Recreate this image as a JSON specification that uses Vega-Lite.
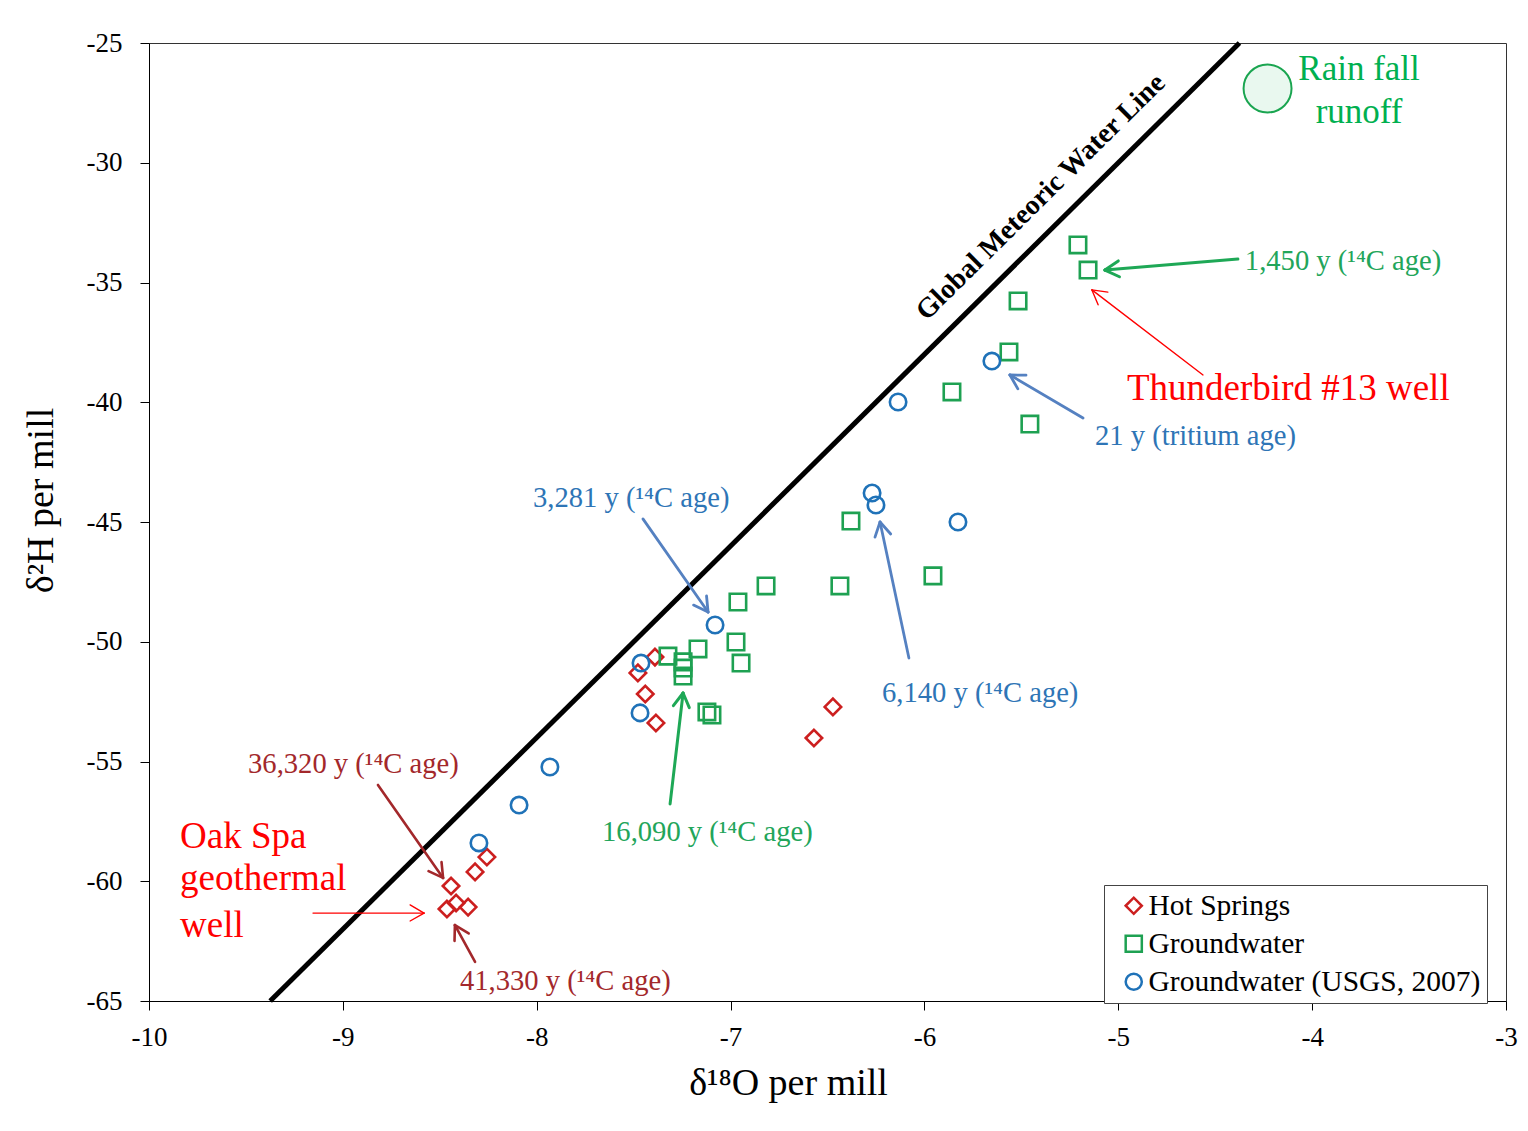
{
  "$schema": "https://vega.github.io/schema/vega-lite/v6.json",
  "width": 1357,
  "height": 958,
  "autosize": "none",
  "padding": {"left": 149, "top": 43, "right": 22, "bottom": 130},
  "background": "white",
  "config": {
    "view": {"stroke": "#333", "strokeWidth": 1},
    "axis": {
      "grid": false,
      "labelFont": "Liberation Serif",
      "labelFontSize": 27,
      "labelColor": "#000",
      "titleFont": "Liberation Serif",
      "titleFontSize": 38,
      "titleFontWeight": "normal",
      "titleColor": "#000",
      "domainColor": "#000",
      "tickColor": "#000",
      "tickSize": 9
    },
    "legend": {
      "labelFont": "Liberation Serif",
      "labelFontSize": 29.5,
      "labelColor": "#000",
      "labelLimit": 0,
      "symbolStrokeWidth": 2.5,
      "symbolSize": 260,
      "strokeColor": "#444",
      "fillColor": "#fff",
      "padding": 6,
      "rowPadding": 7,
      "labelOffset": 0,
      "symbolOffset": 9
    }
  },
  "datasets": {
    "gmwl": [{"x": -9.375, "y": -65, "x2": -4.375, "y2": -25}],
    "rain": [{"x": -4.23, "y": -26.9}],
    "points": [
      {"type": "Hot Springs", "x": -7.478, "y": -51.30},
      {"type": "Hot Springs", "x": -7.39, "y": -50.64},
      {"type": "Hot Springs", "x": -7.44, "y": -52.18},
      {"type": "Hot Springs", "x": -7.385, "y": -53.39},
      {"type": "Hot Springs", "x": -6.472, "y": -52.72},
      {"type": "Hot Springs", "x": -6.570, "y": -54.02},
      {"type": "Hot Springs", "x": -8.257, "y": -58.99},
      {"type": "Hot Springs", "x": -8.318, "y": -59.61},
      {"type": "Hot Springs", "x": -8.442, "y": -60.20},
      {"type": "Hot Springs", "x": -8.463, "y": -61.16},
      {"type": "Hot Springs", "x": -8.416, "y": -60.91},
      {"type": "Hot Springs", "x": -8.354, "y": -61.08},
      {"type": "Groundwater", "x": -5.208, "y": -33.43},
      {"type": "Groundwater", "x": -5.156, "y": -34.48},
      {"type": "Groundwater", "x": -5.517, "y": -35.77},
      {"type": "Groundwater", "x": -5.564, "y": -37.90},
      {"type": "Groundwater", "x": -5.858, "y": -39.57},
      {"type": "Groundwater", "x": -5.456, "y": -40.91},
      {"type": "Groundwater", "x": -6.379, "y": -44.96},
      {"type": "Groundwater", "x": -6.436, "y": -47.67},
      {"type": "Groundwater", "x": -5.956, "y": -47.25},
      {"type": "Groundwater", "x": -6.817, "y": -47.67},
      {"type": "Groundwater", "x": -6.962, "y": -48.34},
      {"type": "Groundwater", "x": -6.972, "y": -50.01},
      {"type": "Groundwater", "x": -6.946, "y": -50.89},
      {"type": "Groundwater", "x": -7.168, "y": -50.30},
      {"type": "Groundwater", "x": -7.323, "y": -50.60},
      {"type": "Groundwater", "x": -7.245, "y": -50.84},
      {"type": "Groundwater", "x": -7.245, "y": -51.10},
      {"type": "Groundwater", "x": -7.245, "y": -51.43},
      {"type": "Groundwater", "x": -7.122, "y": -52.93},
      {"type": "Groundwater", "x": -7.096, "y": -53.06},
      {"type": "Groundwater (USGS, 2007)", "x": -5.652, "y": -38.28},
      {"type": "Groundwater (USGS, 2007)", "x": -6.136, "y": -39.99},
      {"type": "Groundwater (USGS, 2007)", "x": -6.270, "y": -43.79},
      {"type": "Groundwater (USGS, 2007)", "x": -6.250, "y": -44.29},
      {"type": "Groundwater (USGS, 2007)", "x": -5.827, "y": -45.00},
      {"type": "Groundwater (USGS, 2007)", "x": -7.080, "y": -49.30},
      {"type": "Groundwater (USGS, 2007)", "x": -7.462, "y": -50.89},
      {"type": "Groundwater (USGS, 2007)", "x": -7.467, "y": -52.97},
      {"type": "Groundwater (USGS, 2007)", "x": -7.932, "y": -55.23},
      {"type": "Groundwater (USGS, 2007)", "x": -8.091, "y": -56.82},
      {"type": "Groundwater (USGS, 2007)", "x": -8.298, "y": -58.40}
    ],
    "arrows": [
      {"kind": "gw", "x": -4.383, "y": -34.02, "x2": -5.069, "y2": -34.48},
      {"kind": "gw", "x": -5.069, "y": -34.48, "x2": -4.994, "y2": -34.76},
      {"kind": "gw", "x": -5.069, "y": -34.48, "x2": -5.000, "y2": -34.10},
      {"kind": "well", "x": -4.563, "y": -38.86, "x2": -5.136, "y2": -35.31},
      {"kind": "well", "x": -5.136, "y": -35.31, "x2": -5.104, "y2": -35.93},
      {"kind": "well", "x": -5.136, "y": -35.31, "x2": -5.054, "y2": -35.40},
      {"kind": "usgs", "x": -5.182, "y": -40.66, "x2": -5.559, "y2": -38.86},
      {"kind": "usgs", "x": -5.559, "y": -38.86, "x2": -5.518, "y2": -39.44},
      {"kind": "usgs", "x": -5.559, "y": -38.86, "x2": -5.476, "y2": -38.87},
      {"kind": "usgs", "x": -7.452, "y": -44.87, "x2": -7.116, "y2": -48.76},
      {"kind": "usgs", "x": -7.116, "y": -48.76, "x2": -7.124, "y2": -48.09},
      {"kind": "usgs", "x": -7.116, "y": -48.76, "x2": -7.191, "y2": -48.47},
      {"kind": "usgs", "x": -6.080, "y": -50.68, "x2": -6.229, "y2": -45.00},
      {"kind": "usgs", "x": -6.229, "y": -45.00, "x2": -6.255, "y2": -45.63},
      {"kind": "usgs", "x": -6.229, "y": -45.00, "x2": -6.174, "y2": -45.50},
      {"kind": "gw", "x": -7.312, "y": -56.77, "x2": -7.245, "y2": -52.14},
      {"kind": "gw", "x": -7.245, "y": -52.14, "x2": -7.295, "y2": -52.67},
      {"kind": "gw", "x": -7.245, "y": -52.14, "x2": -7.213, "y2": -52.75},
      {"kind": "hs", "x": -8.819, "y": -55.98, "x2": -8.483, "y2": -59.86},
      {"kind": "hs", "x": -8.483, "y": -59.86, "x2": -8.491, "y2": -59.20},
      {"kind": "hs", "x": -8.483, "y": -59.86, "x2": -8.558, "y2": -59.58},
      {"kind": "hs", "x": -8.318, "y": -63.37, "x2": -8.422, "y2": -61.83},
      {"kind": "hs", "x": -8.422, "y": -61.83, "x2": -8.424, "y2": -62.49},
      {"kind": "hs", "x": -8.422, "y": -61.83, "x2": -8.351, "y2": -62.18},
      {"kind": "well", "x": -9.154, "y": -61.33, "x2": -8.581, "y2": -61.33},
      {"kind": "well", "x": -8.581, "y": -61.33, "x2": -8.653, "y2": -60.99},
      {"kind": "well", "x": -8.581, "y": -61.33, "x2": -8.653, "y2": -61.66}
    ],
    "labels": [
      {"kind": "gw", "text": "1,450 y (¹⁴C age)", "x": -4.347, "y": -34.48},
      {"kind": "gw", "text": "16,090 y (¹⁴C age)", "x": -7.663, "y": -58.32},
      {"kind": "usgs", "text": "21 y (tritium age)", "x": -5.120, "y": -41.78},
      {"kind": "usgs", "text": "3,281 y (¹⁴C age)", "x": -8.019, "y": -44.37},
      {"kind": "usgs", "text": "6,140 y (¹⁴C age)", "x": -6.219, "y": -52.52},
      {"kind": "hs", "text": "36,320 y (¹⁴C age)", "x": -9.489, "y": -55.48},
      {"kind": "hs", "text": "41,330 y (¹⁴C age)", "x": -8.396, "y": -64.54},
      {"kind": "well", "text": "Thunderbird #13 well", "x": -4.955, "y": -39.91},
      {"kind": "well", "text": "Oak Spa", "x": -9.840, "y": -58.61},
      {"kind": "well", "text": "geothermal", "x": -9.840, "y": -60.37},
      {"kind": "well", "text": "well", "x": -9.840, "y": -62.33},
      {"kind": "rain", "text": "Rain fall", "x": -3.758, "y": -26.54},
      {"kind": "rain", "text": "runoff", "x": -3.758, "y": -28.34},
      {"kind": "gmwl", "text": "Global Meteoric Water Line", "x": -5.37, "y": -31.68}
    ]
  },
  "encoding": {
    "x": {
      "field": "x",
      "type": "quantitative",
      "scale": {"domain": [-10, -3], "nice": false, "zero": false},
      "axis": {
        "title": "δ¹⁸O per mill",
        "values": [-10, -9, -8, -7, -6, -5, -4, -3],
        "labelExpr": "'' + datum.value",
        "labelPadding": 14,
        "titleX": 639,
        "titleY": 93,
        "titleBaseline": "alphabetic",
        "titleAlign": "center",
        "labelFlush": false,
        "labelOverlap": false
      }
    },
    "y": {
      "field": "y",
      "type": "quantitative",
      "scale": {"domain": [-65, -25], "nice": false, "zero": false},
      "axis": {
        "title": "δ²H per mill",
        "values": [-65, -60, -55, -50, -45, -40, -35, -30, -25],
        "labelExpr": "'' + datum.value",
        "labelPadding": 18,
        "titleX": -97,
        "titleY": 457,
        "titleBaseline": "alphabetic",
        "titleAlign": "center",
        "titleAngle": -90,
        "labelFlush": false,
        "labelOverlap": false
      }
    }
  },
  "layer": [
    {
      "data": {"name": "gmwl"},
      "mark": {"type": "rule", "color": "#000", "strokeWidth": 5},
      "encoding": {"x2": {"field": "x2"}, "y2": {"field": "y2"}}
    },
    {
      "data": {"name": "rain"},
      "mark": {"type": "point", "shape": "circle", "size": 2300, "filled": true, "fill": "#e9f8ef", "stroke": "#1aa550", "strokeWidth": 2, "opacity": 1}
    },
    {
      "data": {"name": "arrows"},
      "transform": [{"filter": "datum.kind === 'gw'"}],
      "mark": {"type": "rule", "color": "#1ea856", "strokeWidth": 3, "strokeCap": "round"},
      "encoding": {"x2": {"field": "x2"}, "y2": {"field": "y2"}}
    },
    {
      "data": {"name": "arrows"},
      "transform": [{"filter": "datum.kind === 'usgs'"}],
      "mark": {"type": "rule", "color": "#5581c1", "strokeWidth": 2.8, "strokeCap": "round"},
      "encoding": {"x2": {"field": "x2"}, "y2": {"field": "y2"}}
    },
    {
      "data": {"name": "arrows"},
      "transform": [{"filter": "datum.kind === 'hs'"}],
      "mark": {"type": "rule", "color": "#a3282b", "strokeWidth": 2.6, "strokeCap": "round"},
      "encoding": {"x2": {"field": "x2"}, "y2": {"field": "y2"}}
    },
    {
      "data": {"name": "arrows"},
      "transform": [{"filter": "datum.kind === 'well'"}],
      "mark": {"type": "rule", "color": "#ff0000", "strokeWidth": 1.4, "strokeCap": "round"},
      "encoding": {"x2": {"field": "x2"}, "y2": {"field": "y2"}}
    },
    {
      "data": {"name": "points"},
      "mark": {"type": "point", "filled": false, "size": 270, "strokeWidth": 2.6, "opacity": 1},
      "encoding": {
        "shape": {
          "field": "type",
          "type": "nominal",
          "scale": {"domain": ["Hot Springs", "Groundwater", "Groundwater (USGS, 2007)"], "range": ["diamond", "square", "circle"]},
          "legend": {"title": null, "orient": "none", "legendX": 955, "legendY": 842, "labelLimit": 0}
        },
        "color": {
          "field": "type",
          "type": "nominal",
          "scale": {"domain": ["Hot Springs", "Groundwater", "Groundwater (USGS, 2007)"], "range": ["#cc1f1f", "#1ea152", "#1f72b8"]},
          "legend": {"title": null, "orient": "none", "legendX": 955, "legendY": 842, "labelLimit": 0}
        }
      }
    },
    {
      "data": {"name": "labels"},
      "transform": [{"filter": "datum.kind === 'gw'"}],
      "mark": {"type": "text", "align": "left", "baseline": "alphabetic", "font": "Liberation Serif", "fontSize": 28.6, "color": "#22a55a"},
      "encoding": {"text": {"field": "text"}}
    },
    {
      "data": {"name": "labels"},
      "transform": [{"filter": "datum.kind === 'usgs'"}],
      "mark": {"type": "text", "align": "left", "baseline": "alphabetic", "font": "Liberation Serif", "fontSize": 28.6, "color": "#2e75b6"},
      "encoding": {"text": {"field": "text"}}
    },
    {
      "data": {"name": "labels"},
      "transform": [{"filter": "datum.kind === 'hs'"}],
      "mark": {"type": "text", "align": "left", "baseline": "alphabetic", "font": "Liberation Serif", "fontSize": 28.6, "color": "#a3282b"},
      "encoding": {"text": {"field": "text"}}
    },
    {
      "data": {"name": "labels"},
      "transform": [{"filter": "datum.kind === 'well'"}],
      "mark": {"type": "text", "align": "left", "baseline": "alphabetic", "font": "Liberation Serif", "fontSize": 37, "color": "#ff0000"},
      "encoding": {"text": {"field": "text"}}
    },
    {
      "data": {"name": "labels"},
      "transform": [{"filter": "datum.kind === 'rain'"}],
      "mark": {"type": "text", "align": "center", "baseline": "alphabetic", "font": "Liberation Serif", "fontSize": 35, "color": "#00b050"},
      "encoding": {"text": {"field": "text"}}
    },
    {
      "data": {"name": "labels"},
      "transform": [{"filter": "datum.kind === 'gmwl'"}],
      "mark": {"type": "text", "align": "center", "baseline": "alphabetic", "font": "Liberation Serif", "fontSize": 28, "fontWeight": "bold", "angle": -44.66, "color": "#000"},
      "encoding": {"text": {"field": "text"}}
    }
  ]
}
